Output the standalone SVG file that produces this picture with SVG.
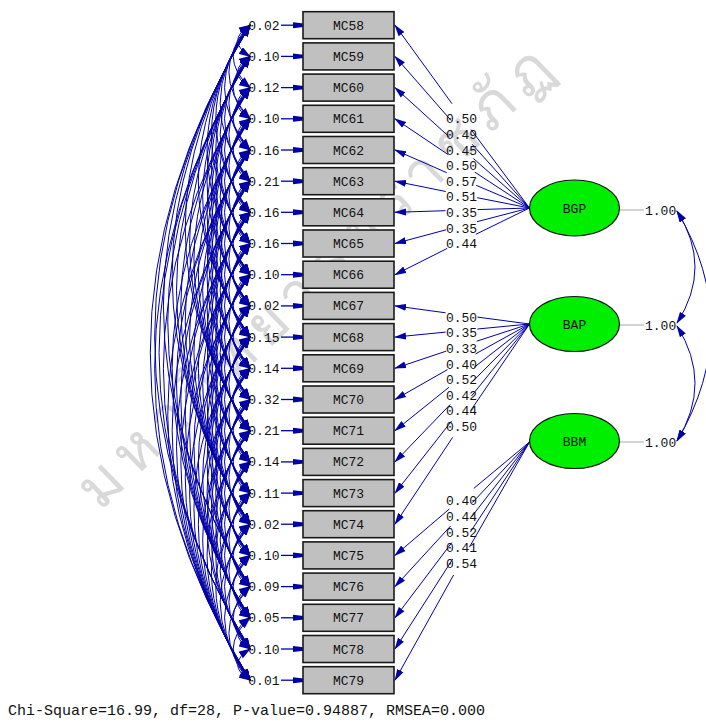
<svg xmlns="http://www.w3.org/2000/svg" xmlns:xlink="http://www.w3.org/1999/xlink" width="706" height="724" viewBox="0 0 706 724">
<style>
.bx{fill:#c0c0c0;stroke:#1a1a1a;stroke-width:1.6}
.t{font-family:"Liberation Mono","DejaVu Sans Mono",monospace;font-size:13px;fill:#111}
.bt{font-family:"Liberation Mono","DejaVu Sans Mono",monospace;font-size:13px;fill:#111;text-anchor:middle}
.lv{fill:#00ee00;stroke:#111;stroke-width:1.2}
.arc{fill:none;stroke:#0000a8;stroke-width:1;marker-start:url(#ah);marker-end:url(#ah)}
.ld{fill:none;stroke:#0000a8;stroke-width:1;marker-end:url(#la)}
.er{fill:none;stroke:#0000a8;stroke-width:1.3;marker-end:url(#ea)}
.fc{fill:none;stroke:#0000a8;stroke-width:1;marker-start:url(#la);marker-end:url(#la)}
.gl{stroke:#c4c4c4;stroke-width:1.5}
</style>
<defs>
<marker id="ah" markerUnits="userSpaceOnUse" orient="auto-start-reverse" markerWidth="12" markerHeight="8" refX="11" refY="4" viewBox="0 0 12 8"><path d="M0,0 L12,4 L0,8 z" fill="#0000a8"/></marker>
<marker id="la" markerUnits="userSpaceOnUse" orient="auto-start-reverse" markerWidth="12" markerHeight="8" refX="11" refY="4" viewBox="0 0 12 8"><path d="M0,0.5 L12,4 L0,7.5 z" fill="#0000a8"/></marker>
<marker id="ea" markerUnits="userSpaceOnUse" orient="auto" markerWidth="11" markerHeight="8" refX="10.5" refY="4" viewBox="0 0 11 8"><path d="M0,1 L11,2.3 L11,5.7 L0,7 z" fill="#0000a8"/></marker>
<path id="c1" class="arc" d="M250 0Q225.3 15.6 250 31.19"/>
<path id="c2" class="arc" d="M250 0Q216.5 31.19 250 62.38"/>
<path id="c3" class="arc" d="M250 0Q207.8 46.79 250 93.57"/>
<path id="c4" class="arc" d="M250 0Q199.1 62.38 250 124.76"/>
<path id="c5" class="arc" d="M250 0Q190.3 77.98 250 155.95"/>
<path id="c6" class="arc" d="M250 0Q181.6 93.57 250 187.14"/>
<path id="c7" class="arc" d="M250 0Q172.9 109.17 250 218.33"/>
<path id="c8" class="arc" d="M250 0Q164.1 124.76 250 249.52"/>
<path id="c9" class="arc" d="M250 0Q155.4 140.36 250 280.71"/>
<path id="c10" class="arc" d="M250 0Q146.7 155.95 250 311.9"/>
<path id="c11" class="arc" d="M250 0Q137.9 171.55 250 343.09"/>
<path id="c12" class="arc" d="M250 0Q129.2 187.14 250 374.28"/>
<path id="c13" class="arc" d="M250 0Q120.5 202.74 250 405.47"/>
<path id="c14" class="arc" d="M250 0Q111.7 218.33 250 436.66"/>
<path id="c15" class="arc" d="M250 0Q103 233.93 250 467.85"/>
<path id="c16" class="arc" d="M250 0Q94.3 249.52 250 499.04"/>
<path id="c17" class="arc" d="M250 0Q85.5 265.12 250 530.23"/>
<path id="c18" class="arc" d="M250 0Q76.8 280.71 250 561.42"/>
<path id="c19" class="arc" d="M250 0Q68.1 296.31 250 592.61"/>
<path id="c20" class="arc" d="M250 0Q59.3 311.9 250 623.8"/>
<path id="c21" class="arc" d="M250 0Q50.6 327.5 250 654.99"/>
<g id="g1"><use href="#c1"/></g>
<g id="g2"><use href="#g1"/><use href="#c2"/></g>
<g id="g3"><use href="#g2"/><use href="#c3"/></g>
<g id="g4"><use href="#g3"/><use href="#c4"/></g>
<g id="g5"><use href="#g4"/><use href="#c5"/></g>
<g id="g6"><use href="#g5"/><use href="#c6"/></g>
<g id="g7"><use href="#g6"/><use href="#c7"/></g>
<g id="g8"><use href="#g7"/><use href="#c8"/></g>
</defs>
<rect width="706" height="724" fill="#fff"/>
<text transform="translate(100 512) rotate(-44)" font-family="'Noto Sans','DejaVu Sans',sans-serif" font-size="60" font-weight="300" letter-spacing="9" fill="#d9d9d9">มหาวิทยาลัยราชภัฏ</text>
<g id="connectors">
<g id="error-covariances">
<use href="#g8" y="25.2"/><use href="#g8" y="56.4"/><use href="#g8" y="87.6"/><use href="#g8" y="118.8"/><use href="#g8" y="150"/><use href="#g8" y="181.2"/><use href="#g8" y="212.3"/><use href="#g8" y="243.5"/><use href="#g8" y="274.7"/><use href="#g8" y="305.9"/><use href="#g8" y="337.1"/><use href="#g8" y="368.3"/><use href="#g8" y="399.5"/><use href="#g8" y="430.7"/>
<use href="#g7" y="461.9"/><use href="#g6" y="493.1"/><use href="#g5" y="524.2"/><use href="#g4" y="555.4"/><use href="#g3" y="586.6"/><use href="#g2" y="617.8"/><use href="#g1" y="649"/>
<use href="#c9" y="56.4"/><use href="#c9" y="150"/><use href="#c9" y="243.5"/><use href="#c9" y="337.1"/><use href="#c9" y="399.5"/>
<use href="#c10" y="25.2"/><use href="#c10" y="118.8"/><use href="#c10" y="212.3"/><use href="#c10" y="305.9"/><use href="#c10" y="368.3"/>
<use href="#c11" y="87.6"/><use href="#c11" y="181.2"/><use href="#c11" y="274.7"/><use href="#c11" y="337.1"/>
<use href="#c12" y="56.4"/><use href="#c12" y="150"/><use href="#c12" y="243.5"/><use href="#c12" y="305.9"/>
<use href="#c13" y="25.2"/><use href="#c13" y="118.8"/><use href="#c13" y="212.3"/><use href="#c13" y="274.7"/>
<use href="#c14" y="87.6"/><use href="#c14" y="181.2"/><use href="#c14" y="243.5"/>
<use href="#c15" y="56.4"/><use href="#c15" y="150"/><use href="#c15" y="212.3"/>
<use href="#c16" y="25.2"/><use href="#c16" y="118.8"/><use href="#c16" y="181.2"/>
<use href="#c17" y="56.4"/><use href="#c17" y="150"/>
<use href="#c18" y="25.2"/><use href="#c18" y="87.6"/>
<use href="#c19" y="56.4"/>
<use href="#c20" y="25.2"/><use href="#c20" y="56.4"/>
<use href="#c21" y="25.2"/>
</g>
<g id="error-arrows">
<line class="er" x1="281" y1="25.2" x2="303" y2="25.2"/>
<line class="er" x1="281" y1="56.4" x2="303" y2="56.4"/>
<line class="er" x1="281" y1="87.6" x2="303" y2="87.6"/>
<line class="er" x1="281" y1="118.8" x2="303" y2="118.8"/>
<line class="er" x1="281" y1="150" x2="303" y2="150"/>
<line class="er" x1="281" y1="181.2" x2="303" y2="181.2"/>
<line class="er" x1="281" y1="212.3" x2="303" y2="212.3"/>
<line class="er" x1="281" y1="243.5" x2="303" y2="243.5"/>
<line class="er" x1="281" y1="274.7" x2="303" y2="274.7"/>
<line class="er" x1="281" y1="305.9" x2="303" y2="305.9"/>
<line class="er" x1="281" y1="337.1" x2="303" y2="337.1"/>
<line class="er" x1="281" y1="368.3" x2="303" y2="368.3"/>
<line class="er" x1="281" y1="399.5" x2="303" y2="399.5"/>
<line class="er" x1="281" y1="430.7" x2="303" y2="430.7"/>
<line class="er" x1="281" y1="461.9" x2="303" y2="461.9"/>
<line class="er" x1="281" y1="493.1" x2="303" y2="493.1"/>
<line class="er" x1="281" y1="524.2" x2="303" y2="524.2"/>
<line class="er" x1="281" y1="555.4" x2="303" y2="555.4"/>
<line class="er" x1="281" y1="586.6" x2="303" y2="586.6"/>
<line class="er" x1="281" y1="617.8" x2="303" y2="617.8"/>
<line class="er" x1="281" y1="649" x2="303" y2="649"/>
<line class="er" x1="281" y1="680.2" x2="303" y2="680.2"/>
</g>
<g id="loadings">
<path class="ld" d="M529.5 208L471 129.5M452 103.7L395 25.2"/>
<path class="ld" d="M529.5 208L472.1 144.2M450.9 120.3L395 56.4"/>
<path class="ld" d="M529.5 208L473.4 158.5M449.6 137.2L395 87.6"/>
<path class="ld" d="M529.5 208L474.9 172.2M448.2 154.6L395 118.8"/>
<path class="ld" d="M529.5 208L476.2 185.3M446.8 172.7L395 150"/>
<path class="ld" d="M529.5 208L477.2 197.7M445.8 191.5L395 181.2"/>
<path class="ld" d="M529.5 208L477.5 209.6M445.5 210.7L395 212.3"/>
<path class="ld" d="M529.5 208L477 221.7M446 229.8L395 243.5"/>
<path class="ld" d="M529.5 208L475.9 234.3M447.2 248.4L395 274.7"/>
<path class="ld" d="M529.5 324L477.4 317.1M445.6 312.8L395 305.9"/>
<path class="ld" d="M529.5 324L477.4 329M445.6 332.1L395 337.1"/>
<path class="ld" d="M529.5 324L476.7 341.2M446.3 351.1L395 368.3"/>
<path class="ld" d="M529.5 324L475.5 353.9M447.5 369.6L395 399.5"/>
<path class="ld" d="M529.5 324L474.1 367.4M448.9 387.3L395 430.7"/>
<path class="ld" d="M529.5 324L472.7 381.5M450.3 404.4L395 461.9"/>
<path class="ld" d="M529.5 324L471.5 396M451.5 421.1L395 493.1"/>
<path class="ld" d="M529.5 324L470.5 410.8M452.6 437.4L395 524.2"/>
<path class="ld" d="M529.5 442L473.8 488.4M449.3 509L395 555.4"/>
<path class="ld" d="M529.5 442L472.4 502.6M450.6 526L395 586.6"/>
<path class="ld" d="M529.5 442L471.3 517.2M451.8 542.6L395 617.8"/>
<path class="ld" d="M529.5 442L470.3 532.1M452.8 558.9L395 649"/>
<path class="ld" d="M529.5 442L469.4 547.2M453.6 575L395 680.2"/>
</g>
<g id="loading-labels" class="bt">
<text x="461.5" y="123.3">0.50</text><text x="461.5" y="138.9">0.49</text><text x="461.5" y="154.5">0.45</text><text x="461.5" y="170.1">0.50</text><text x="461.5" y="185.7">0.57</text><text x="461.5" y="201.3">0.51</text><text x="461.5" y="216.9">0.35</text><text x="461.5" y="232.5">0.35</text><text x="461.5" y="248.1">0.44</text>
<text x="461.5" y="321.6">0.50</text><text x="461.5" y="337.3">0.35</text><text x="461.5" y="352.9">0.33</text><text x="461.5" y="368.5">0.40</text><text x="461.5" y="384.1">0.52</text><text x="461.5" y="399.7">0.42</text><text x="461.5" y="415.3">0.44</text><text x="461.5" y="430.8">0.50</text>
<text x="461.5" y="505.4">0.40</text><text x="461.5" y="521">0.44</text><text x="461.5" y="536.6">0.52</text><text x="461.5" y="552.2">0.41</text><text x="461.5" y="567.8">0.54</text>
</g>
<g id="factor-covariances">
<line class="gl" x1="620" y1="210" x2="644" y2="210"/>
<line class="gl" x1="620" y1="325" x2="644" y2="325"/>
<line class="gl" x1="620" y1="442" x2="644" y2="442"/>
<path class="fc" d="M677 211Q713 267 677 323"/>
<path class="fc" d="M677 211Q745 326 677 441"/>
<path class="fc" d="M677 326Q713 383 677 441"/>
</g>
</g>
<g id="error-labels" class="t" text-anchor="end">
<text x="279.5" y="29.7">0.02</text><text x="279.5" y="60.9">0.10</text><text x="279.5" y="92.1">0.12</text><text x="279.5" y="123.3">0.10</text><text x="279.5" y="154.5">0.16</text><text x="279.5" y="185.7">0.21</text><text x="279.5" y="216.8">0.16</text><text x="279.5" y="248">0.16</text><text x="279.5" y="279.2">0.10</text><text x="279.5" y="310.4">0.02</text><text x="279.5" y="341.6">0.15</text><text x="279.5" y="372.8">0.14</text><text x="279.5" y="404">0.32</text><text x="279.5" y="435.2">0.21</text><text x="279.5" y="466.4">0.14</text><text x="279.5" y="497.6">0.11</text><text x="279.5" y="528.7">0.02</text><text x="279.5" y="559.9">0.10</text><text x="279.5" y="591.1">0.09</text><text x="279.5" y="622.3">0.05</text><text x="279.5" y="653.5">0.10</text><text x="279.5" y="684.7">0.01</text>
</g>
<g id="MC58"><rect class="bx" x="303" y="11.7" width="91" height="27"/><text class="bt" x="348.5" y="29.7">MC58</text></g>
<g id="MC59"><rect class="bx" x="303" y="42.9" width="91" height="27"/><text class="bt" x="348.5" y="60.9">MC59</text></g>
<g id="MC60"><rect class="bx" x="303" y="74.1" width="91" height="27"/><text class="bt" x="348.5" y="92.1">MC60</text></g>
<g id="MC61"><rect class="bx" x="303" y="105.3" width="91" height="27"/><text class="bt" x="348.5" y="123.3">MC61</text></g>
<g id="MC62"><rect class="bx" x="303" y="136.5" width="91" height="27"/><text class="bt" x="348.5" y="154.5">MC62</text></g>
<g id="MC63"><rect class="bx" x="303" y="167.7" width="91" height="27"/><text class="bt" x="348.5" y="185.7">MC63</text></g>
<g id="MC64"><rect class="bx" x="303" y="198.8" width="91" height="27"/><text class="bt" x="348.5" y="216.8">MC64</text></g>
<g id="MC65"><rect class="bx" x="303" y="230" width="91" height="27"/><text class="bt" x="348.5" y="248">MC65</text></g>
<g id="MC66"><rect class="bx" x="303" y="261.2" width="91" height="27"/><text class="bt" x="348.5" y="279.2">MC66</text></g>
<g id="MC67"><rect class="bx" x="303" y="292.4" width="91" height="27"/><text class="bt" x="348.5" y="310.4">MC67</text></g>
<g id="MC68"><rect class="bx" x="303" y="323.6" width="91" height="27"/><text class="bt" x="348.5" y="341.6">MC68</text></g>
<g id="MC69"><rect class="bx" x="303" y="354.8" width="91" height="27"/><text class="bt" x="348.5" y="372.8">MC69</text></g>
<g id="MC70"><rect class="bx" x="303" y="386" width="91" height="27"/><text class="bt" x="348.5" y="404">MC70</text></g>
<g id="MC71"><rect class="bx" x="303" y="417.2" width="91" height="27"/><text class="bt" x="348.5" y="435.2">MC71</text></g>
<g id="MC72"><rect class="bx" x="303" y="448.4" width="91" height="27"/><text class="bt" x="348.5" y="466.4">MC72</text></g>
<g id="MC73"><rect class="bx" x="303" y="479.6" width="91" height="27"/><text class="bt" x="348.5" y="497.6">MC73</text></g>
<g id="MC74"><rect class="bx" x="303" y="510.7" width="91" height="27"/><text class="bt" x="348.5" y="528.7">MC74</text></g>
<g id="MC75"><rect class="bx" x="303" y="541.9" width="91" height="27"/><text class="bt" x="348.5" y="559.9">MC75</text></g>
<g id="MC76"><rect class="bx" x="303" y="573.1" width="91" height="27"/><text class="bt" x="348.5" y="591.1">MC76</text></g>
<g id="MC77"><rect class="bx" x="303" y="604.3" width="91" height="27"/><text class="bt" x="348.5" y="622.3">MC77</text></g>
<g id="MC78"><rect class="bx" x="303" y="635.5" width="91" height="27"/><text class="bt" x="348.5" y="653.5">MC78</text></g>
<g id="MC79"><rect class="bx" x="303" y="666.7" width="91" height="27"/><text class="bt" x="348.5" y="684.7">MC79</text></g>
<g id="BGP"><ellipse class="lv" cx="574.5" cy="208" rx="45" ry="28"/><text class="bt" x="574.5" y="212.5">BGP</text><text class="t" x="645" y="214.5">1.00</text></g>
<g id="BAP"><ellipse class="lv" cx="574.5" cy="324" rx="45" ry="27.5"/><text class="bt" x="574.5" y="328.5">BAP</text><text class="t" x="645" y="329.5">1.00</text></g>
<g id="BBM"><ellipse class="lv" cx="574.5" cy="441" rx="45" ry="27.5"/><text class="bt" x="574.5" y="445.5">BBM</text><text class="t" x="645" y="446.5">1.00</text></g>
<text x="8" y="715" font-family="'Liberation Mono','DejaVu Sans Mono',monospace" font-size="15" fill="#111">Chi-Square=16.99, df=28, P-value=0.94887, RMSEA=0.000</text>
</svg>
